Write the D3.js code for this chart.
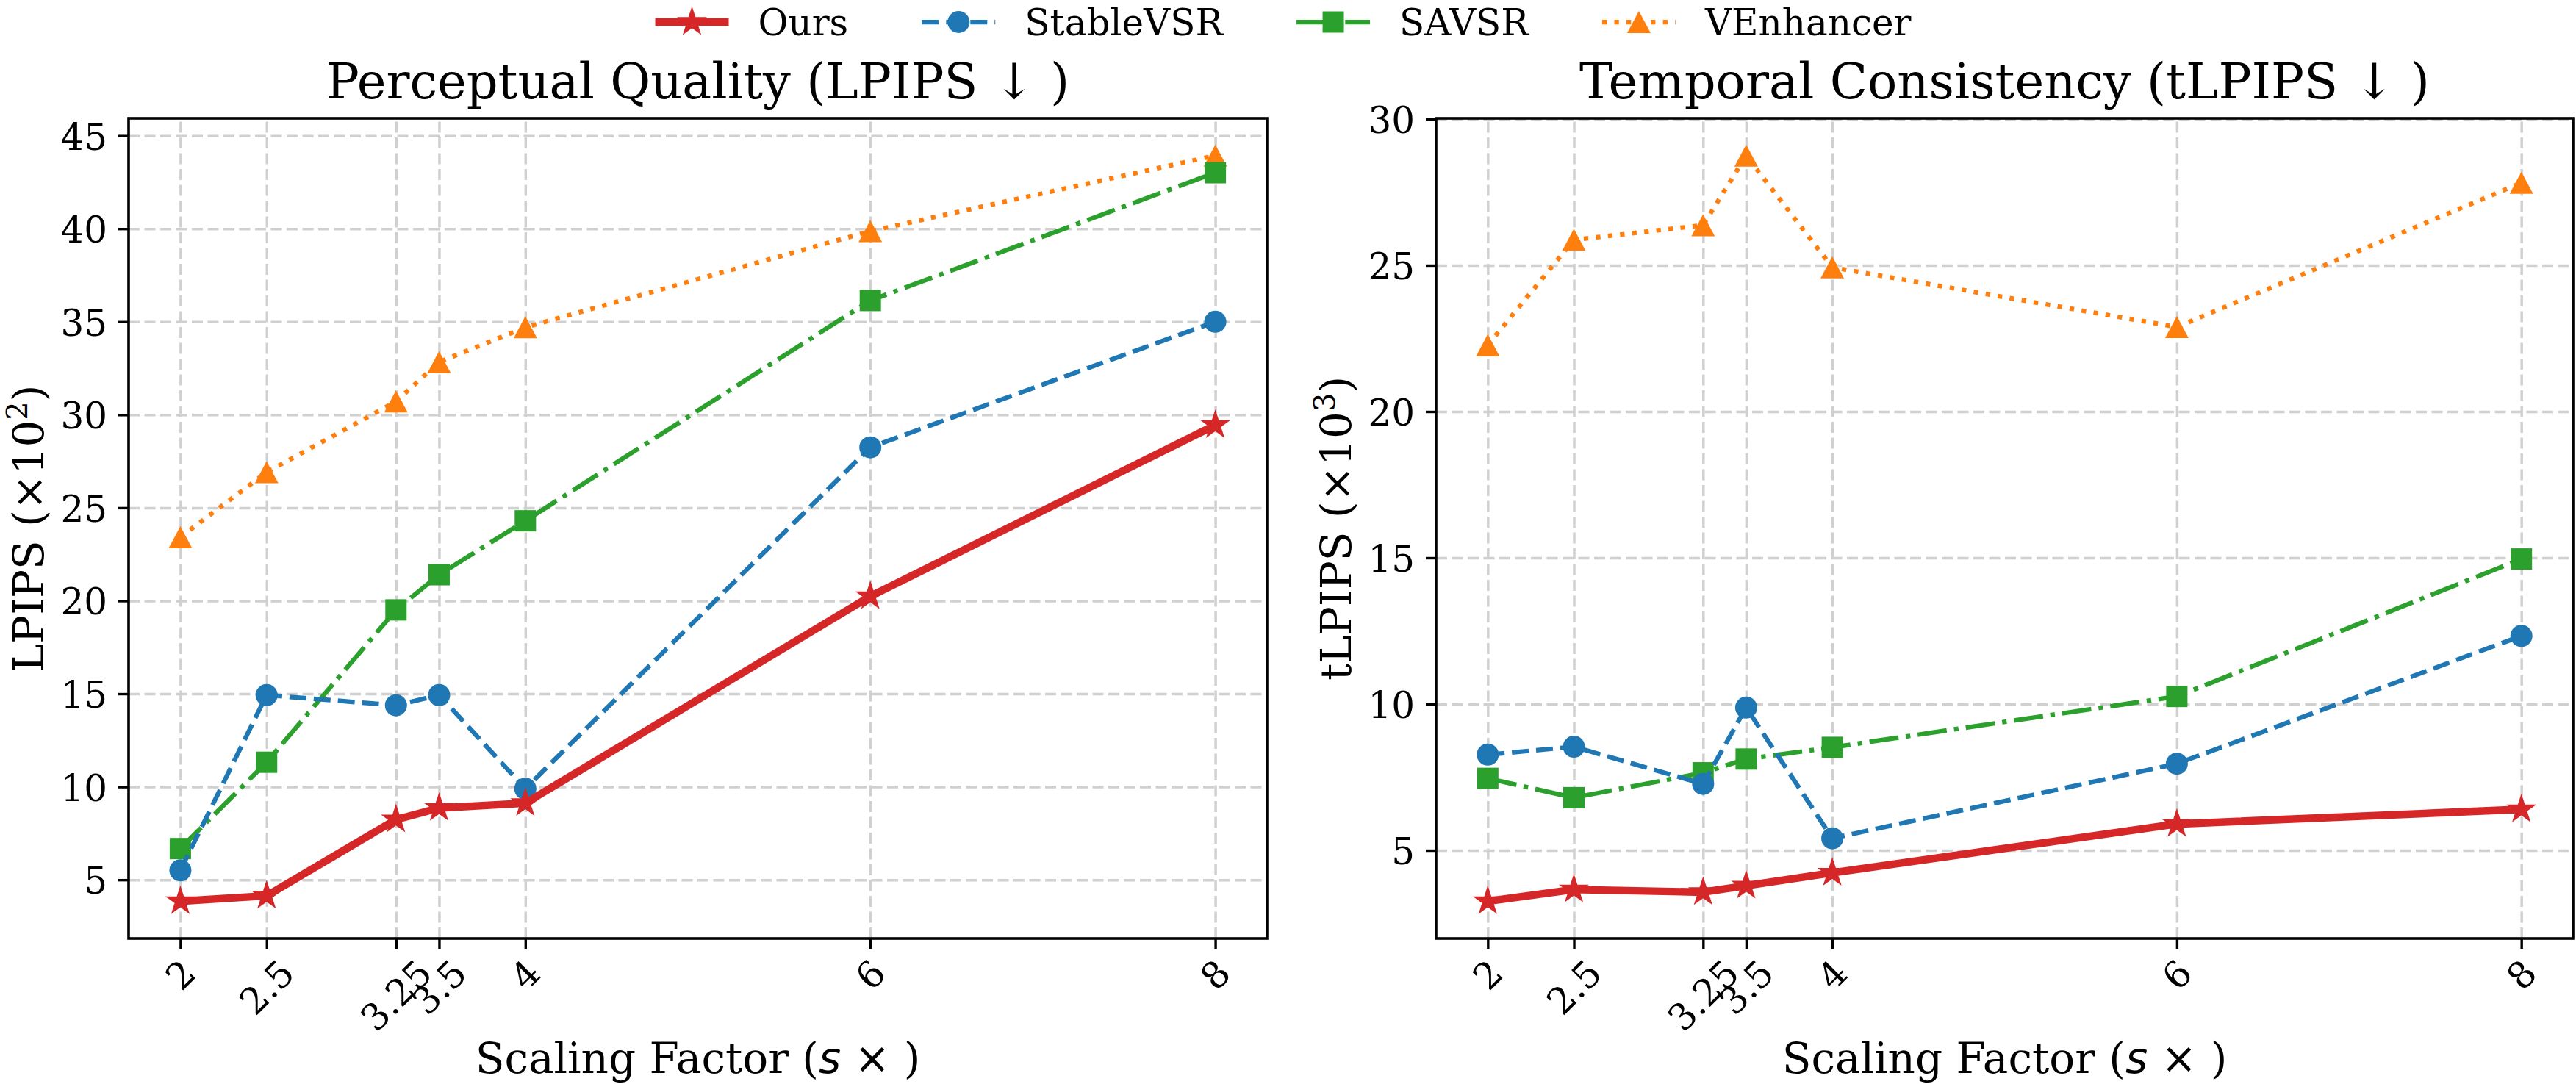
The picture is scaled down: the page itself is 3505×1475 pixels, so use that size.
<!DOCTYPE html>
<html>
<head>
<meta charset="utf-8">
<script src="https://cdn.jsdelivr.net/npm/d3@7"></script>
<style>
  body { margin: 0; background: #fff; }
  svg { display: block; font-family: "DejaVu Serif", serif; }
</style>
</head>
<body>
<svg id="fig" width="3505" height="1475"></svg>
<script>
// scaling factors on the x axis
const scales = [2, 2.5, 3.25, 3.5, 4, 6, 8];
const scaleLabels = ["2", "2.5", "3.25", "3.5", "4", "6", "8"];
const methods = ["Ours", "StableVSR", "SAVSR", "VEnhancer"];

// LPIPS (x10^2)
const lpipsOurs   = [3.85, 4.14, 8.24, 8.86, 9.12, 20.24, 29.44];
const lpipsStable = [5.51, 14.93, 14.38, 14.93, 9.9, 28.25, 35.0];
const lpipsSavsr  = [6.68, 11.32, 19.51, 21.4, 24.3, 36.14, 43.01];
const lpipsVenh   = [23.42, 26.91, 30.71, 32.83, 34.7, 39.87, 43.93];

// tLPIPS (x10^3)
const tlpipsOurs   = [3.26, 3.66, 3.57, 3.79, 4.23, 5.9, 6.4];
const tlpipsStable = [8.27, 8.54, 7.27, 9.88, 5.41, 7.96, 12.33];
const tlpipsSavsr  = [7.46, 6.8, 7.65, 8.12, 8.52, 10.26, 14.96];
const tlpipsVenh   = [22.27, 25.87, 26.37, 28.75, 24.93, 22.89, 27.82];

const lpipsTicks = [5, 10, 15, 20, 25, 30, 35, 40, 45];
const tlpipsTicks = [5, 10, 15, 20, 25, 30];

const style = {
  Ours:      { color: "#d62728", width: 10.4, dash: null,               marker: "star" },
  StableVSR: { color: "#1f77b4", width: 6.25, dash: "23,10",            marker: "circle" },
  SAVSR:     { color: "#2ca02c", width: 6.25, dash: "40,10,6.25,10",    marker: "square" },
  VEnhancer: { color: "#ff7f0e", width: 6.25, dash: "6.25,10.3",        marker: "triangle" }
};

const svg = d3.select("#fig");
const axTop = 161, axBottom = 1277;

const panels = [
  { left: 175, right: 1724, title: "Perceptual Quality (LPIPS \u2193 )",
    ylab: "LPIPS (\u00d710", sup: "2", ticks: lpipsTicks,
    data: { Ours: lpipsOurs, StableVSR: lpipsStable, SAVSR: lpipsSavsr, VEnhancer: lpipsVenh } },
  { left: 1954, right: 3501, title: "Temporal Consistency (tLPIPS \u2193 )",
    ylab: "tLPIPS (\u00d710", sup: "3", ticks: tlpipsTicks,
    data: { Ours: tlpipsOurs, StableVSR: tlpipsStable, SAVSR: tlpipsSavsr, VEnhancer: tlpipsVenh } }
];

function markerPath(type) {
  if (type === "star") return d3.symbol(d3.symbolStar, 21.5 * 21.5 / 0.8908)();
  if (type === "circle") return d3.symbol(d3.symbolCircle, Math.PI * 15 * 15)();
  if (type === "square") return d3.symbol(d3.symbolSquare, 29 * 29)();
  return "M0,-15L16,15L-16,15Z";
}

function pad(ext) {
  const m = (ext[1] - ext[0]) * 0.05;
  return [ext[0] - m, ext[1] + m];
}

panels.forEach(p => {
  const all = methods.flatMap(k => p.data[k]);
  const x = d3.scaleLinear().domain(pad(d3.extent(scales))).range([p.left, p.right]);
  const y = d3.scaleLinear().domain(pad(d3.extent(all))).range([axBottom, axTop]);
  const g = svg.append("g");

  // grid
  const gx = g.append("g").attr("transform", `translate(0,${axBottom})`)
    .call(d3.axisBottom(x).tickValues(scales).tickSize(-(axBottom - axTop)).tickFormat(""));
  const gy = g.append("g").attr("transform", `translate(${p.left},0)`)
    .call(d3.axisLeft(y).tickValues(p.ticks).tickSize(-(p.right - p.left)).tickFormat(""));
  [gx, gy].forEach(a => {
    a.select(".domain").remove();
    a.selectAll("line").attr("stroke", "#d0d0d0").attr("stroke-width", 3.5)
      .attr("stroke-dasharray", "15,6.5");
  });

  // series, drawn back to front
  methods.slice().reverse().forEach(k => {
    const s = style[k];
    const vals = p.data[k];
    const line = d3.line().x((d, i) => x(scales[i])).y(d => y(d));
    g.append("path").datum(vals)
      .attr("d", line)
      .attr("fill", "none")
      .attr("stroke", s.color)
      .attr("stroke-width", s.width)
      .attr("stroke-dasharray", s.dash)
      .attr("stroke-linejoin", "round")
      .attr("stroke-linecap", s.dash ? "butt" : "round");
    g.append("g").selectAll("path").data(vals).enter().append("path")
      .attr("transform", (d, i) => `translate(${x(scales[i])},${y(d)})`)
      .attr("d", markerPath(s.marker))
      .attr("fill", s.color);
  });

  // frame
  g.append("rect")
    .attr("x", p.left).attr("y", axTop)
    .attr("width", p.right - p.left).attr("height", axBottom - axTop)
    .attr("fill", "none").attr("stroke", "#000").attr("stroke-width", 3.6);

  // x axis
  const ax = g.append("g").attr("transform", `translate(0,${axBottom})`)
    .call(d3.axisBottom(x).tickValues(scales).tickFormat((d, i) => scaleLabels[i])
      .tickSize(14).tickSizeOuter(0));
  ax.select(".domain").remove();
  ax.selectAll("line").attr("stroke", "#000").attr("stroke-width", 3.4);
  ax.selectAll("text")
    .attr("font-family", "DejaVu Serif").attr("font-size", 50).attr("fill", "#000")
    .attr("y", 0).attr("dy", null)
    .attr("text-anchor", "middle").attr("dominant-baseline", "central")
    .attr("transform", function() {
      const w = this.getComputedTextLength();
      const side = (w + 58) / Math.SQRT2;
      return `translate(0,${18 + side / 2}) rotate(-45)`;
    });

  // y axis
  const ay = g.append("g").attr("transform", `translate(${p.left},0)`)
    .call(d3.axisLeft(y).tickValues(p.ticks).tickSize(14).tickPadding(15).tickSizeOuter(0));
  ay.select(".domain").remove();
  ay.selectAll("line").attr("stroke", "#000").attr("stroke-width", 3.4);
  ay.selectAll("text")
    .attr("font-family", "DejaVu Serif").attr("font-size", 50).attr("fill", "#000")
    .attr("dy", "0.37em");

  const cx = (p.left + p.right) / 2;
  g.append("text").attr("x", cx).attr("y", 134)
    .attr("text-anchor", "middle").attr("font-size", 67).text(p.title);

  const xl = g.append("text").attr("x", cx).attr("y", 1460)
    .attr("text-anchor", "middle").attr("font-size", 58);
  xl.append("tspan").text("Scaling Factor (");
  xl.append("tspan").attr("font-family", "DejaVu Sans").attr("font-style", "italic").text("s");
  xl.append("tspan").attr("font-family", "DejaVu Sans").text(" \u00d7 ");
  xl.append("tspan").text(")");

  const yl = g.append("text")
    .attr("transform", `translate(${p.left - 116},${(axTop + axBottom) / 2}) rotate(-90)`)
    .attr("text-anchor", "middle").attr("font-size", 58);
  yl.append("tspan").text(p.ylab);
  yl.append("tspan").attr("font-size", 40).attr("dy", -22).text(p.sup);
  yl.append("tspan").attr("dy", 22).text(")");
});

// legend
const leg = svg.append("g");
let lx = 0;
methods.forEach(k => {
  const s = style[k];
  const it = leg.append("g").attr("transform", `translate(${lx},0)`);
  it.append("line").attr("x1", 0).attr("x2", 100).attr("y1", 30).attr("y2", 30)
    .attr("stroke", s.color).attr("stroke-width", s.width)
    .attr("stroke-dasharray", s.dash);
  it.append("path").attr("transform", "translate(50,30)").attr("d", markerPath(s.marker))
    .attr("fill", s.color);
  const t = it.append("text").attr("x", 140).attr("y", 48).attr("font-size", 50).text(k);
  lx += 140 + t.node().getComputedTextLength() + 100;
});
const legW = lx - 100;
leg.attr("transform", `translate(${1746 - legW / 2},0)`);
</script>
</body>
</html>
